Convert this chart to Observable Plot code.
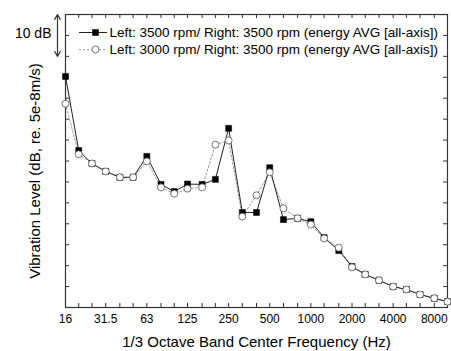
<!DOCTYPE html>
<html><head><meta charset="utf-8">
<script src="https://cdn.jsdelivr.net/npm/d3@7"></script>
<script src="https://cdn.jsdelivr.net/npm/@observablehq/plot@0.6"></script>
<style>body{margin:0;background:#fff}</style>
</head><body><div id="chart"></div>
<script>
const bands = [16,20,25,31.5,40,50,63,80,100,125,160,200,250,315,400,500,630,800,1000,1250,1600,2000,2500,3150,4000,5000,6300,8000,10000];
const tickLabels = [16,31.5,63,125,250,500,1000,2000,4000,8000];
const yTicks = [0,5,10,15,20,25,30,35,40,45,50,55,60,65,70];
const seriesA = [55.2,37.5,34.4,32.5,31.1,31.1,36.1,29.4,27.7,29.5,29.4,30.6,42.8,22.7,22.7,33.4,21.0,21.3,20.5,16.7,13.6,9.8,7.9,6.5,5.0,4.3,3.1,2.2,1.4];
const seriesB = [48.7,36.6,34.4,32.5,31.1,31.1,34.9,28.7,27.2,28.4,28.7,38.9,39.9,21.7,26.8,32.3,23.7,21.3,19.8,16.5,14.3,9.6,7.9,6.5,5.0,4.3,3.1,2.2,1.4];
const nameA = "Left: 3500 rpm/ Right: 3500 rpm (energy AVG [all-axis])";
const nameB = "Left: 3000 rpm/ Right: 3500 rpm (energy AVG [all-axis])";
const xLabel = "1/3 Octave Band Center Frequency (Hz)";
const yLabel = "Vibration Level (dB, re. 5e-8m/s)";
const scaleLabel = "10 dB";

const A = bands.map((f, i) => ({f, v: seriesA[i]}));
const B = bands.map((f, i) => ({f, v: seriesB[i]}));

const W = 451, H = 351, mL = 65, mR = 4, mT = 14, mB = 44;
const fw = W - mL - mR, fh = H - mT - mB, tl = 4;

const chart = Plot.plot({
  width: W, height: H,
  marginLeft: mL, marginRight: mR, marginTop: mT, marginBottom: mB,
  style: {fontFamily: "'Liberation Sans', Arial, sans-serif", background: "#fff", color: "#000"},
  x: {type: "log", domain: [16, 10000], axis: null},
  y: {domain: [0, 70], axis: null},
  marks: [
    Plot.tickY(yTicks, {y: d => d, insetRight: fw - tl, stroke: "#333"}),
    Plot.tickY(yTicks, {y: d => d, insetLeft: fw - tl, stroke: "#333"}),
    Plot.tickX(bands, {x: d => d, insetTop: fh - tl, stroke: "#333"}),
    Plot.tickX(bands, {x: d => d, insetBottom: fh - tl, stroke: "#333"}),
    Plot.frame({stroke: "#333", strokeWidth: 1.2}),
    Plot.text(tickLabels, {x: d => d, text: d => String(d), frameAnchor: "bottom", dy: 12, textAnchor: "middle", lineAnchor: "middle", fontSize: 12}),
    Plot.text([xLabel], {frameAnchor: "bottom", dy: 35, textAnchor: "middle", lineAnchor: "middle", fontSize: 15}),
    Plot.text([yLabel], {frameAnchor: "left", rotate: -90, dx: -30, dy: 10, textAnchor: "middle", lineAnchor: "middle", fontSize: 15}),
    Plot.text([scaleLabel], {frameAnchor: "top-left", textAnchor: "end", dx: -14, dy: 19, lineAnchor: "middle", fontSize: 14}),
    Plot.arrow([0, 1], {x1: 16, x2: 16, y1: 65, y2: (d) => d === 0 ? 70 : 60, dx: -8, stroke: "#333", strokeWidth: 1.2, headLength: 7, bend: 0}),
    Plot.line(B, {x: "f", y: "v", stroke: "#999", strokeWidth: 1, strokeDasharray: "2,2"}),
    Plot.line(A, {x: "f", y: "v", stroke: "#222", strokeWidth: 1}),
    Plot.dot(A, {x: "f", y: "v", symbol: "square", r: 3.4, fill: "#000", stroke: "#000", strokeWidth: 0.5}),
    Plot.dot(B, {x: "f", y: "v", symbol: "circle", r: 3.5, fill: "#fff", stroke: "#555", strokeWidth: 0.8}),
    // legend
    Plot.ruleY([65.7], {insetLeft: 14, insetRight: fw - 42, stroke: "#222", strokeWidth: 1}),
    Plot.ruleY([61.6], {insetLeft: 14, insetRight: fw - 42, stroke: "#999", strokeWidth: 1, strokeDasharray: "2,2"}),
    Plot.dot([nameA], {frameAnchor: "top-left", dx: 30, dy: 18, symbol: "square", r: 3.4, fill: "#000", stroke: "#000", strokeWidth: 0.5}),
    Plot.dot([nameB], {frameAnchor: "top-left", dx: 30, dy: 35, symbol: "circle", r: 3.5, fill: "#fff", stroke: "#555", strokeWidth: 0.8}),
    Plot.text([nameA], {frameAnchor: "top-left", dx: 44, dy: 18, textAnchor: "start", lineAnchor: "middle", fontSize: 13.5}),
    Plot.text([nameB], {frameAnchor: "top-left", dx: 44, dy: 35, textAnchor: "start", lineAnchor: "middle", fontSize: 13.5})
  ]
});
document.getElementById("chart").appendChild(chart);
</script>
</body></html>
